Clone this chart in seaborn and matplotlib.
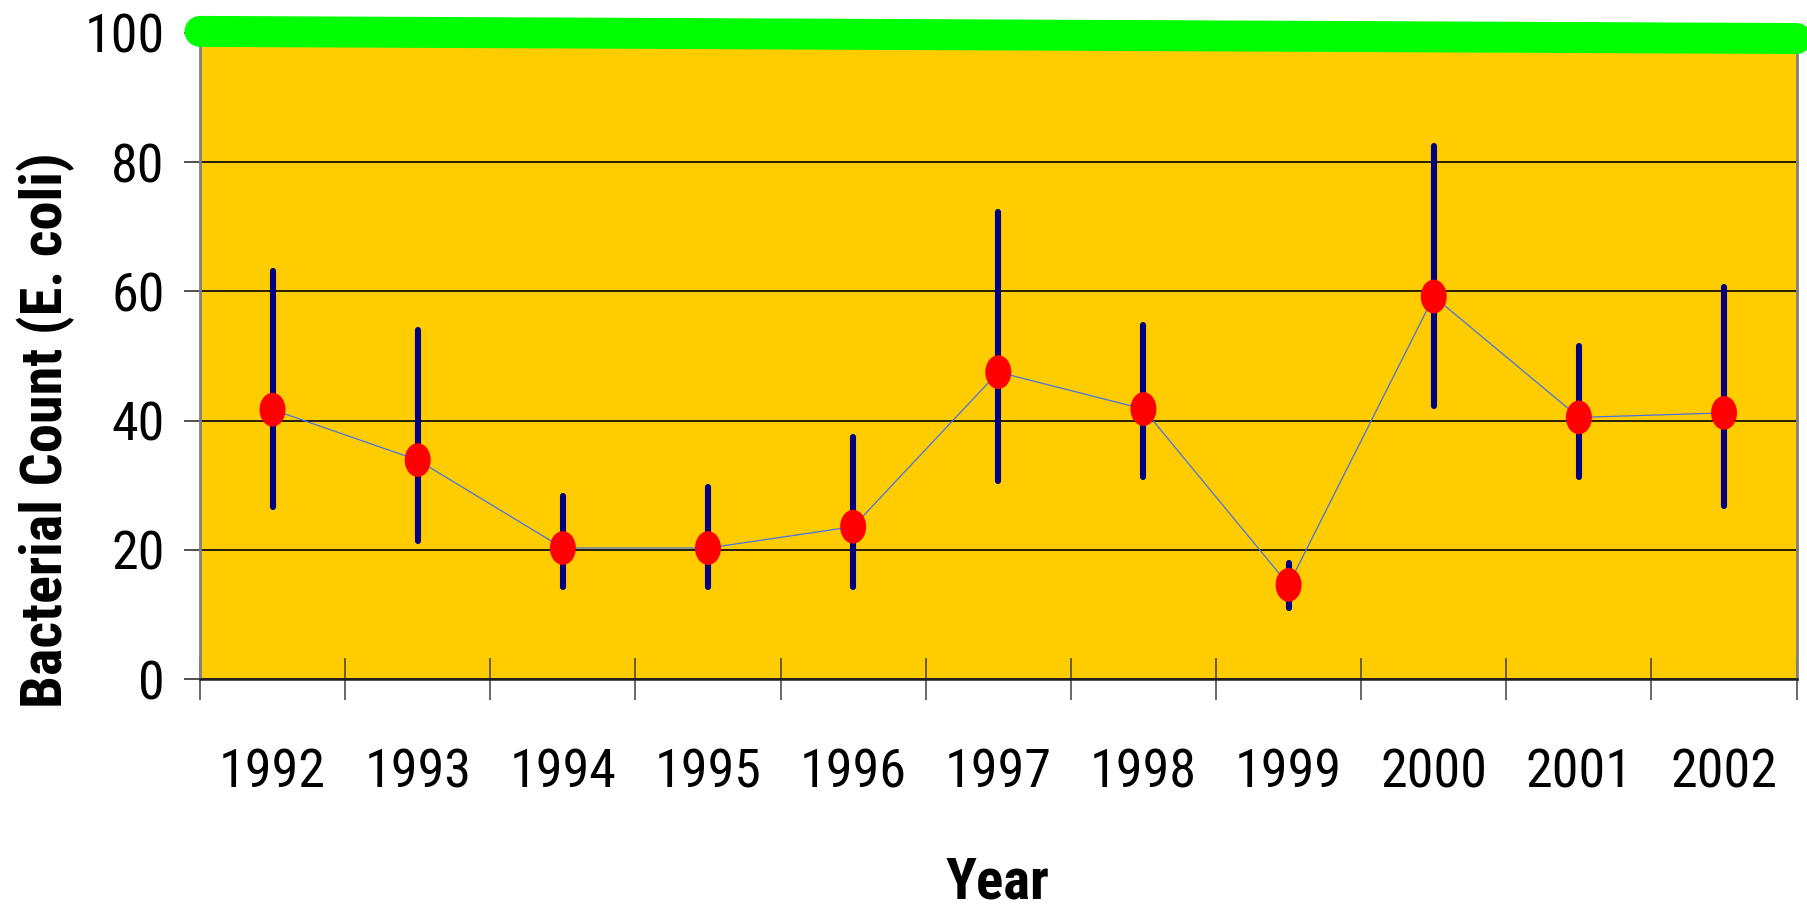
import numpy as np
import pandas as pd
import matplotlib
matplotlib.use("Agg")
import matplotlib.pyplot as plt
import seaborn as sns
from matplotlib.path import Path
from matplotlib.transforms import Affine2D

# Data
years = [1992, 1993, 1994, 1995, 1996, 1997, 1998, 1999, 2000, 2001, 2002]
mean_count = [41.7, 33.9, 20.3, 20.3, 23.6, 47.5, 41.8, 14.6, 59.2, 40.5, 41.2]
upper_count = [63.2, 54.0, 28.4, 29.8, 37.4, 72.3, 54.8, 18.0, 82.5, 51.5, 60.6]
lower_count = [26.7, 21.4, 14.3, 14.3, 14.3, 30.7, 31.3, 11.1, 42.2, 31.3, 26.8]
limit_x = [1991.5, 2002.5]
limit_y = [100.2, 99.1]
y_ticks = [0, 20, 40, 60, 80, 100]

df = pd.DataFrame({'year': years, 'mean': mean_count,
                   'upper': upper_count, 'lower': lower_count})

sns.set_theme(style='white')
plt.rcParams['font.family'] = ['Liberation Sans Narrow', 'Roboto Condensed',
                               'Open Sans Condensed', 'Liberation Sans']
plt.rcParams['text.color'] = 'black'
plt.rcParams['xtick.color'] = 'black'
plt.rcParams['ytick.color'] = 'black'
plt.rcParams['axes.labelcolor'] = 'black'

fig = plt.figure(figsize=(18.08, 9.08), dpi=100)
ax = fig.add_axes([0.1106, 0.2519, 0.8831, 0.7121])
ax.set_facecolor('#FFCC00')

# Thin connecting line
sns.lineplot(data=df, x='year', y='mean', ax=ax, color='#4472E8',
             linewidth=0.9, zorder=3)

# Error bars
ax.vlines(df['year'], df['lower'], df['upper'], colors='#000080',
          linewidth=4.4, capstyle='round', zorder=4)

# Red oval markers
oval = Affine2D().scale(0.77, 1.0).transform_path(Path.unit_circle())
sns.scatterplot(data=df, x='year', y='mean', ax=ax, marker=oval, s=590,
                color='#FF0000', edgecolor='none', linewidth=0, zorder=5)

# Green limit line along the top
ax.plot(limit_x, limit_y, color='#00FF00', linewidth=22.3,
        solid_capstyle='round', clip_on=False, zorder=10)

ax.set_xlim(limit_x)
ax.set_ylim(0, 100)

# Ticks at category boundaries, labels at the centres
ax.set_xticks(np.arange(1991.5, 2003, 1.0))
ax.set_xticklabels([])
ax.set_xticks(years, minor=True)
ax.set_xticklabels([str(y) for y in years], minor=True, fontsize=39)
ax.tick_params(axis='x', which='major', direction='inout', length=30,
               width=1.1, color='#404040', bottom=True)
ax.tick_params(axis='x', which='minor', length=0, pad=49, bottom=True)

ax.set_yticks(y_ticks)
ax.set_yticklabels([str(v) for v in y_ticks], fontsize=39)
ax.tick_params(axis='y', direction='inout', length=23, width=1.1,
               color='#202020', pad=14, left=True)

ax.yaxis.grid(True, color='#000000', linewidth=1.2)
ax.xaxis.grid(False)
ax.set_axisbelow(True)

for side in ['left', 'right']:
    ax.spines[side].set_color('#808080')
    ax.spines[side].set_linewidth(2)
ax.spines['bottom'].set_color('#202020')
ax.spines['bottom'].set_linewidth(1.8)
ax.spines['top'].set_visible(False)

ax.set_xlabel('Year', fontsize=41, fontweight='bold')
ax.set_ylabel('Bacterial Count (E. coli)', fontsize=42, fontweight='bold')
ax.xaxis.set_label_coords(0.4995, -0.272)
ax.yaxis.set_label_coords(-0.078, 0.386)

fig.savefig('out.png', dpi=100, facecolor='white')
